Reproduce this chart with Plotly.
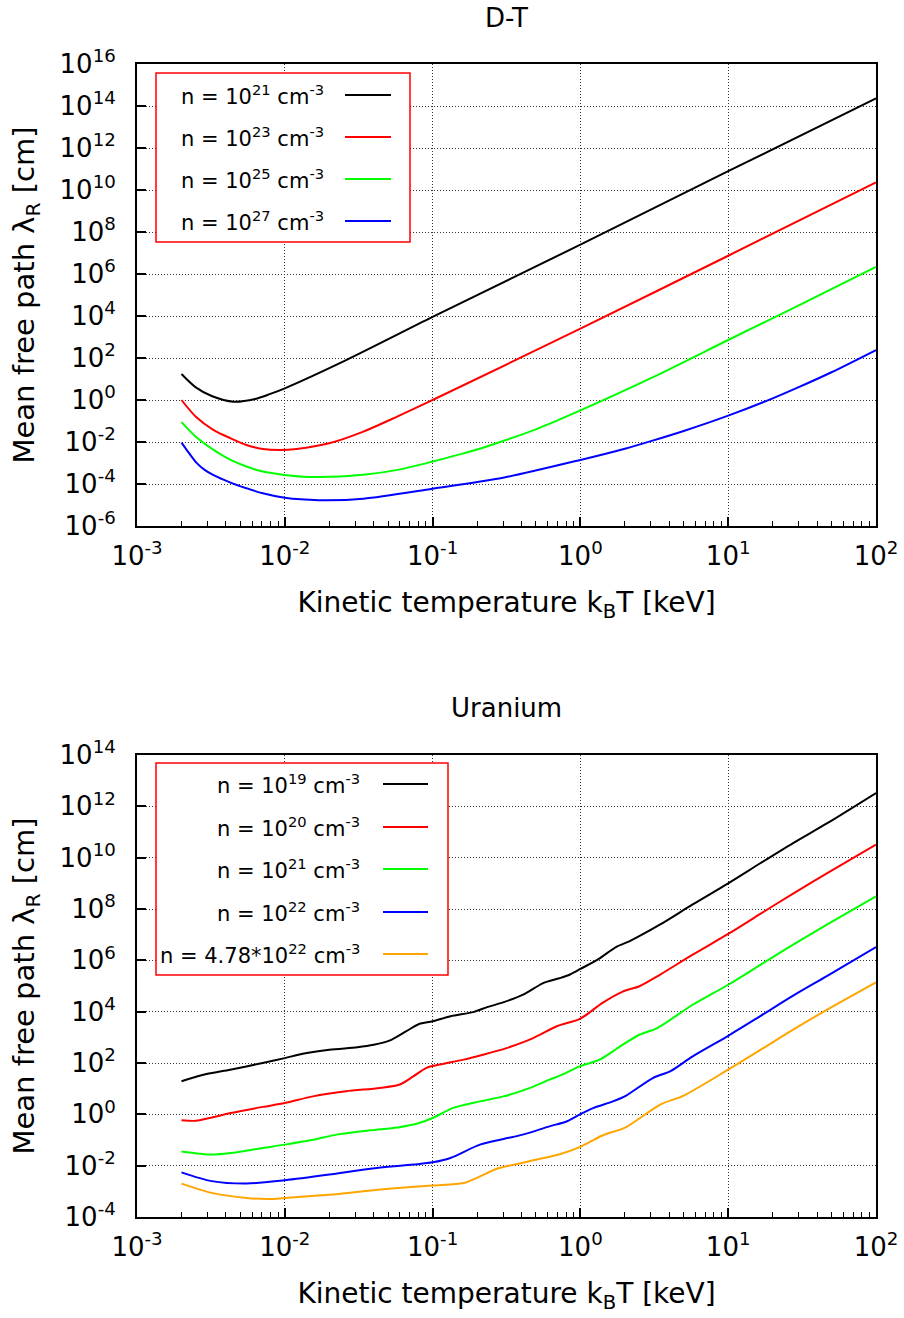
import plotly.graph_objects as go
from plotly.subplots import make_subplots

# ---------------- data: D-T ----------------
dt_names = ["n = 10<sup>21</sup> cm<sup>-3</sup>", "n = 10<sup>23</sup> cm<sup>-3</sup>",
            "n = 10<sup>25</sup> cm<sup>-3</sup>", "n = 10<sup>27</sup> cm<sup>-3</sup>"]
dt_colors = ["#000000", "#ff0000", "#00ff00", "#0000ff"]

dt_n21_T = [0.002, 0.0025, 0.0032, 0.0045, 0.0063, 0.0079, 0.01, 0.026, 0.1, 1, 10, 100]
dt_n21_L = [17.4, 4.0, 1.55, 0.83, 1.12, 1.9, 3.6, 79, 9.0e3, 2.5e7, 7.9e10, 2.3e14]

dt_n23_T = [0.002, 0.0025, 0.0033, 0.0043, 0.0055, 0.0071, 0.0093, 0.012, 0.02, 0.034, 0.058, 0.1, 1, 10, 100]
dt_n23_L = [1.0, 0.16, 0.037, 0.015, 7.2e-3, 4.7e-3, 4.2e-3, 4.7e-3, 8.7e-3, 0.031, 0.166, 1.0, 2.5e3, 7.4e6, 2.3e10]

dt_n25_T = [0.002, 0.0025, 0.0033, 0.0043, 0.0055, 0.0071, 0.01, 0.0145, 0.02, 0.034, 0.058, 0.1, 0.15,
            0.2, 0.3, 0.5, 1, 3, 10, 32, 100]
dt_n25_L = [0.089, 0.018, 4.2e-3, 1.4e-3, 6.8e-4, 3.9e-4, 2.7e-4, 2.15e-4, 2.2e-4, 2.75e-4, 4.7e-4, 1.17e-3, 2.5e-3,
            4.4e-3, 0.0112, 0.04, 0.32, 11, 720, 4.0e4, 2.2e6]

dt_n27_T = [0.002, 0.00221, 0.00252, 0.00287, 0.00327, 0.00425, 0.0055, 0.0071, 0.01, 0.017, 0.034, 0.1, 0.3,
            1, 2, 3, 5, 10, 20, 30, 50, 100]
dt_n27_L = [9.3e-3, 3.5e-3, 1.05e-3, 4.7e-4, 2.7e-4, 1.2e-4, 6.3e-5, 3.6e-5, 2.2e-5, 1.7e-5, 2.0e-5, 6.0e-5, 2.0e-4,
            1.4e-3, 4.8e-3, 0.011, 0.0335, 0.18, 1.2, 4.1, 21, 240]

# ---------------- data: Uranium ----------------
u_names = ["n = 10<sup>19</sup> cm<sup>-3</sup>", "n = 10<sup>20</sup> cm<sup>-3</sup>",
           "n = 10<sup>21</sup> cm<sup>-3</sup>", "n = 10<sup>22</sup> cm<sup>-3</sup>",
           "n = 4.78*10<sup>22</sup> cm<sup>-3</sup>"]
u_colors = ["#000000", "#ff0000", "#00ff00", "#0000ff", "#ffa500"]

u_n19_T = [0.002, 0.00295, 0.00427, 0.00708, 0.01, 0.0132, 0.02, 0.031, 0.04, 0.051, 0.066, 0.081, 0.1,
           0.132, 0.19, 0.234, 0.30, 0.41, 0.56, 0.72, 0.85, 1, 1.35, 1.74, 2.14, 2.5, 3.47, 5.75, 10,
           16.6, 27.5, 46.8, 100]
u_n19_L = [19.5, 37, 55, 100, 155, 230, 330, 410, 510, 740, 1.7e3, 3.3e3, 4.2e3,
           6.6e3, 9.8e3, 1.5e4, 2.3e4, 4.6e4, 1.3e5, 2.0e5, 2.8e5, 4.6e5, 1.2e6, 3.3e6, 5.5e6, 8.7e6, 2.5e7, 1.5e8, 1.0e9,
           6.2e9, 3.7e10, 2.2e11, 3.3e12]

u_n20_T = [0.002, 0.0025, 0.0031, 0.0043, 0.0071, 0.01, 0.0155, 0.026, 0.044, 0.06, 0.074, 0.091, 0.112,
           0.162, 0.219, 0.316, 0.479, 0.692, 1, 1.41, 1.95, 2.51, 3.47, 5.75, 10, 16.6, 27.5, 46.8, 100]
u_n20_L = [0.59, 0.56, 0.72, 1.12, 1.95, 2.75, 5.0, 7.9, 10.7, 14.5, 30, 65, 87,
           135, 209, 380, 930, 2.7e3, 5.4e3, 2.2e4, 6.2e4, 9.8e4, 2.8e5, 1.66e6, 1.07e7, 6.6e7, 4.0e8, 2.5e9, 3.2e10]

u_n21_T = [0.002, 0.0032, 0.0043, 0.0071, 0.01, 0.0155, 0.0224, 0.038, 0.058, 0.081, 0.1, 0.138, 0.209,
           0.302, 0.457, 0.617, 0.724, 1, 1.35, 1.86, 2.51, 3.31, 5.75, 10, 16.6, 27.5, 46.8, 100]
u_n21_L = [0.036, 0.027, 0.031, 0.049, 0.066, 0.102, 0.162, 0.24, 0.31, 0.46, 0.72, 1.78, 3.2,
           5.0, 10.7, 22.4, 32, 76, 135, 447, 1.26e3, 2.3e3, 1.86e4, 1.12e5, 6.8e5, 4.1e6, 2.5e7, 3.1e8]

u_n22_T = [0.002, 0.0032, 0.0055, 0.01, 0.02, 0.038, 0.074, 0.1, 0.132, 0.209, 0.302, 0.407, 0.617,
           0.813, 1, 1.23, 1.66, 2.04, 3.09, 4.07, 5.75, 10, 16.6, 27.5, 46.8, 100]
u_n22_L = [5.5e-3, 2.5e-3, 2.0e-3, 2.7e-3, 4.5e-3, 7.6e-3, 0.011, 0.0135, 0.02, 0.066, 0.11, 0.162, 0.34,
           0.54, 1.02, 1.78, 3.2, 5.4, 26, 48, 182, 1.15e3, 6.9e3, 4.2e4, 2.5e5, 3.3e6]

u_n478_T = [0.002, 0.0032, 0.0055, 0.0079, 0.01, 0.02, 0.034, 0.058, 0.1, 0.162, 0.209, 0.269, 0.355,
            0.5, 0.724, 1, 1.41, 2.04, 3.47, 5.0, 10, 16.6, 27.5, 46.8, 100]
u_n478_L = [2.0e-3, 8.7e-4, 5.5e-4, 5.0e-4, 5.5e-4, 7.4e-4, 1.0e-3, 1.35e-3, 1.7e-3, 2.1e-3, 3.8e-3, 7.4e-3, 0.011,
            0.017, 0.028, 0.054, 0.15, 0.32, 2.4, 5.4, 55, 330, 2.0e3, 1.2e4, 1.38e5]

# ---------------- tick labels ----------------
x_exponents = [-3, -2, -1, 0, 1, 2]
y_top_exponents = [-6, -4, -2, 0, 2, 4, 6, 8, 10, 12, 14, 16]
y_bot_exponents = [-4, -2, 0, 2, 4, 6, 8, 10, 12, 14]

titles = ["D-T", "Uranium"]
x_title = "Kinetic temperature k<sub>B</sub>T [keV]"
y_title = "Mean free path λ<sub>R</sub> [cm]"

FONT = "DejaVu Sans"
TICK_SIZE = 26
XTITLE_SIZE = 28
YTITLE_SIZE = 29
LEG_SIZE = 21
GRID_DASH = "1px,2px"

fig = make_subplots(rows=2, cols=1, vertical_spacing=0.0)

dt_series = [(dt_n21_T, dt_n21_L), (dt_n23_T, dt_n23_L), (dt_n25_T, dt_n25_L), (dt_n27_T, dt_n27_L)]
u_series = [(u_n19_T, u_n19_L), (u_n20_T, u_n20_L), (u_n21_T, u_n21_L), (u_n22_T, u_n22_L), (u_n478_T, u_n478_L)]

for (T, L), name, c in zip(dt_series, dt_names, dt_colors):
    fig.add_trace(go.Scatter(x=T, y=L, mode="lines", name=name, showlegend=False,
                             line=dict(color=c, width=2, shape="spline", smoothing=0.8)), row=1, col=1)
for (T, L), name, c in zip(u_series, u_names, u_colors):
    fig.add_trace(go.Scatter(x=T, y=L, mode="lines", name=name, showlegend=False,
                             line=dict(color=c, width=2, shape="spline", smoothing=0.8)), row=2, col=1)

W, H = 904, 1318
ML, MR, MT, MB = 137, 28, 64, 101
ph = H - MT - MB
top_dom = [(1217 - 526) / ph, 1.0]
bot_dom = [0.0, (1217 - 755) / ph]

minor_x = [m * 10 ** e for e in x_exponents[:-1] for m in range(2, 10)]

def xaxis_cfg():
    return dict(type="log", range=[-3, 2], automargin=False,
                tickmode="array", tickvals=[10 ** e for e in x_exponents],
                ticktext=[f"10<sup>{e}</sup>" for e in x_exponents],
                ticks="inside", ticklen=9, tickwidth=1.5, tickcolor="#000",
                minor=dict(tickmode="array", tickvals=minor_x, ticks="inside", ticklen=5,
                           tickwidth=1, tickcolor="#000", showgrid=False),
                showgrid=True, gridcolor="#333", griddash=GRID_DASH, gridwidth=1,
                showline=True, linecolor="#000", linewidth=2, mirror=True,
                zeroline=False, tickfont=dict(family=FONT, size=TICK_SIZE, color="#000"),
                ticklabelstandoff=6,
                title=dict(text=x_title, font=dict(family=FONT, size=XTITLE_SIZE, color="#000"), standoff=22))

def yaxis_cfg(exps):
    return dict(type="log", range=[exps[0], exps[-1]], automargin=False,
                tickmode="array", tickvals=[10 ** e for e in exps],
                ticktext=[f"10<sup>{e}</sup>" for e in exps],
                ticks="inside", ticklen=9, tickwidth=1.5, tickcolor="#000",
                showgrid=True, gridcolor="#333", griddash=GRID_DASH, gridwidth=1,
                showline=True, linecolor="#000", linewidth=2, mirror=True,
                zeroline=False, tickfont=dict(family=FONT, size=TICK_SIZE, color="#000"),
                ticklabelstandoff=14,
                title=dict(text=y_title, font=dict(family=FONT, size=YTITLE_SIZE, color="#000"), standoff=16))

fig.update_layout(
    width=W, height=H, margin=dict(l=ML, r=MR, t=MT, b=MB),
    paper_bgcolor="white", plot_bgcolor="white",
    font=dict(family=FONT, color="#000"),
    xaxis=dict(**xaxis_cfg(), domain=[0, 1], anchor="y"),
    yaxis=dict(**yaxis_cfg(y_top_exponents), domain=top_dom, anchor="x"),
    xaxis2=dict(**xaxis_cfg(), domain=[0, 1], anchor="y2"),
    yaxis2=dict(**yaxis_cfg(y_bot_exponents), domain=bot_dom, anchor="x2"),
)

# subplot titles
for title, ypx in zip(titles, [18, 708]):
    fig.add_annotation(text=title, xref="paper", yref="paper", x=0.5, y=(1217 - ypx) / ph,
                       xanchor="center", yanchor="middle", showarrow=False,
                       font=dict(family=FONT, size=TICK_SIZE, color="#000"))

# gnuplot-style key boxes (text left, line sample right)
def add_key(names, colors, xr, yr, box, text_right, line_x, rows):
    fig.add_shape(type="rect", xref=xr + " domain", yref=yr + " domain",
                  x0=box[0], x1=box[1], y0=box[2], y1=box[3],
                  line=dict(color="#ff0000", width=1.5), fillcolor="white", layer="above")
    for name, c, ry in zip(names, colors, rows):
        fig.add_annotation(text=name, xref=xr + " domain", yref=yr + " domain",
                           x=text_right, y=ry, xanchor="right", yanchor="middle", showarrow=False,
                           font=dict(family=FONT, size=LEG_SIZE, color="#000"))
        fig.add_shape(type="line", xref=xr + " domain", yref=yr + " domain",
                      x0=line_x[0], x1=line_x[1], y0=ry, y1=ry,
                      line=dict(color=c, width=2), layer="above")

def dx(px):
    return (px - 137) / 739

def dy_top(py):
    return (526 - py) / 462

def dy_bot(py):
    return (1217 - py) / 462

add_key(dt_names, dt_colors, "x", "y",
        [dx(156), dx(410), dy_top(242), dy_top(73)], dx(326), [dx(345), dx(391)],
        [dy_top(p) for p in [95, 137, 179, 221]])
add_key(u_names, u_colors, "x2", "y2",
        [dx(156), dx(448), dy_bot(975), dy_bot(763)], dx(362), [dx(383), dx(428)],
        [dy_bot(p) for p in [784, 827, 869, 912, 954]])

fig.write_html("out.html")
